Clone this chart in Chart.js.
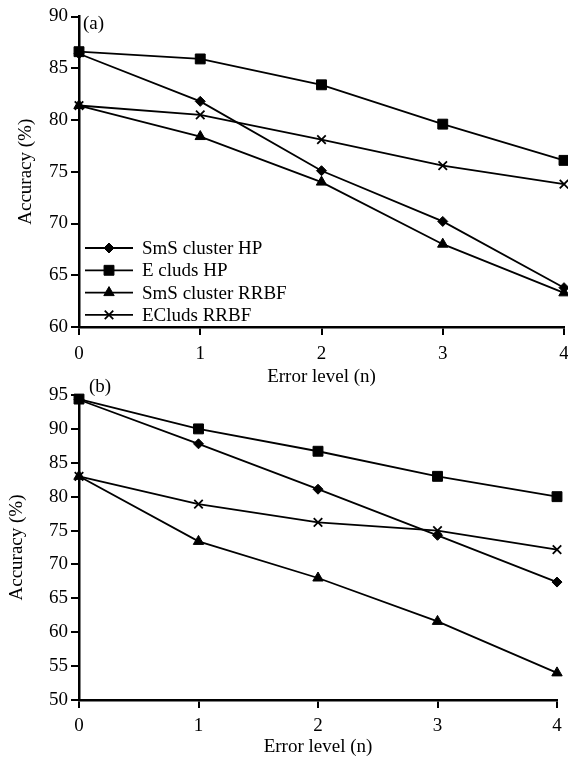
<!DOCTYPE html>
<html><head><meta charset="utf-8">
<script src="https://cdn.jsdelivr.net/npm/chart.js@4"></script>
<style>
html,body{margin:0;padding:0;background:#fff;}
#wrap{position:relative;width:568px;height:757px;overflow:hidden;background:#fff;}
canvas{position:absolute;left:0;}
#ca{top:0;}
#cb{top:372px;}
</style></head><body>
<div id="wrap"><canvas id="ca" width="568" height="388"></canvas><canvas id="cb" width="568" height="385"></canvas></div>
<script>
// ---- data ----
const categories = ['0', '1', '2', '3', '4'];
const seriesNames = ['SmS cluster HP', 'E cluds HP', 'SmS cluster RRBF', 'ECluds RRBF'];
const panelA_smsClusterHP   = [86.4, 81.8, 75.1, 70.2, 63.8];
const panelA_ecludsHP       = [86.6, 85.9, 83.4, 79.6, 76.1];
const panelA_smsClusterRRBF = [81.4, 78.4, 74.0, 68.0, 63.3];
const panelA_ecludsRRBF     = [81.4, 80.5, 78.1, 75.6, 73.8];
const panelB_smsClusterHP   = [94.3, 87.8, 81.1, 74.3, 67.4];
const panelB_ecludsHP       = [94.4, 90.0, 86.7, 83.0, 80.0];
const panelB_smsClusterRRBF = [83.0, 73.4, 68.0, 61.6, 54.0];
const panelB_ecludsRRBF     = [83.0, 78.9, 76.2, 75.0, 72.2];
const panelA_yTicks = [60, 65, 70, 75, 80, 85, 90];
const panelB_yTicks = [50, 55, 60, 65, 70, 75, 80, 85, 90, 95];
const panelLabels = ['(a)', '(b)'];
const xTitle = 'Error level (n)';
const yTitle = 'Accuracy (%)';

// ---- styles ----
const FONT = "'Liberation Serif', 'Times New Roman', serif";
const markerStyles = [
  {pointStyle: 'rectRot', pointRadius: 5, pointBorderWidth: 1},
  {pointStyle: 'rect', pointRadius: 7, pointBorderWidth: 1},
  {pointStyle: 'triangle', pointRadius: 6, pointBorderWidth: 1},
  {pointStyle: 'crossRot', pointRadius: 6, pointBorderWidth: 1.8}
];

function makeDatasets(arrs) {
  return arrs.map((d, i) => Object.assign({
    label: seriesNames[i],
    data: d,
    borderColor: '#000',
    backgroundColor: '#000',
    pointBackgroundColor: '#000',
    pointBorderColor: '#000',
    borderWidth: 1.8,
    tension: 0,
    clip: false
  }, markerStyles[i]));
}

function drawMarker(ctx, style, radius, x, y) {
  if (Chart.helpers && Chart.helpers.drawPoint) {
    Chart.helpers.drawPoint(ctx, {pointStyle: style, radius: radius, rotation: 0, borderWidth: ctx.lineWidth}, x, y);
    return;
  }
  ctx.beginPath();
  if (style === 'rect') { const s = radius * Math.SQRT1_2; ctx.rect(x - s, y - s, 2 * s, 2 * s); ctx.fill(); }
  else if (style === 'rectRot') { ctx.moveTo(x, y - radius); ctx.lineTo(x + radius, y); ctx.lineTo(x, y + radius); ctx.lineTo(x - radius, y); ctx.closePath(); ctx.fill(); }
  else if (style === 'triangle') { ctx.moveTo(x, y - radius); ctx.lineTo(x + radius * 0.866, y + radius / 2); ctx.lineTo(x - radius * 0.866, y + radius / 2); ctx.closePath(); ctx.fill(); }
  else { const s = radius * Math.SQRT1_2; ctx.moveTo(x - s, y - s); ctx.lineTo(x + s, y + s); ctx.moveTo(x + s, y - s); ctx.lineTo(x - s, y + s); ctx.stroke(); }
}

const annotPlugin = {
  id: 'annot',
  afterDatasetsDraw(chart, args, opts) {
    const ctx = chart.ctx, ca = chart.chartArea;
    ctx.save();
    ctx.fillStyle = '#000';
    ctx.font = '19px ' + FONT;
    ctx.textBaseline = 'middle';
    ctx.textAlign = 'left';
    ctx.fillText(opts.label, ca.left + opts.lx, ca.top + opts.ly);
    if (opts.legend) {
      chart.data.datasets.forEach((ds, i) => {
        const y = ca.bottom - 79 + i * 22.3;
        const x0 = ca.left + 6, x1 = ca.left + 54;
        ctx.strokeStyle = '#000';
        ctx.lineWidth = ds.borderWidth;
        ctx.beginPath(); ctx.moveTo(x0, y); ctx.lineTo(x1, y); ctx.stroke();
        ctx.fillStyle = '#000';
        ctx.lineWidth = ds.pointBorderWidth;
        drawMarker(ctx, ds.pointStyle, ds.pointRadius, (x0 + x1) / 2, y);
        ctx.fillStyle = '#000';
        ctx.textBaseline = 'middle';
        ctx.fillText(ds.label, ca.left + 63, y + 1);
      });
    }
    ctx.restore();
  }
};

function makeChart(id, arrs, yTicks, opt) {
  return new Chart(document.getElementById(id), {
    type: 'line',
    data: {labels: categories, datasets: makeDatasets(arrs)},
    options: {
      responsive: false,
      animation: false,
      devicePixelRatio: 1,
      layout: {autoPadding: false, padding: {top: opt.padTop, right: opt.padRight, left: 0, bottom: 0}},
      plugins: {
        legend: {display: false},
        tooltip: {enabled: false},
        annot: {label: opt.label, lx: opt.lx, ly: opt.ly, legend: opt.legend}
      },
      scales: {
        x: {
          offset: false,
          afterFit: s => { s.height = opt.xHeight; s.paddingLeft = 0; s.paddingRight = 0; },
          grid: {display: true, drawOnChartArea: false, drawTicks: true, tickLength: 8, color: '#000', lineWidth: 2},
          border: {display: true, color: '#000', width: 2.5},
          ticks: {color: '#000', padding: opt.xPad, font: {family: FONT, size: 19}, maxRotation: 0},
          title: {display: true, text: xTitle, color: '#000', font: {family: FONT, size: 19}, padding: {top: 0, bottom: opt.xTitlePad}}
        },
        y: {
          min: yTicks[0], max: yTicks[yTicks.length - 1],
          afterFit: s => { s.width = 79; },
          afterBuildTicks: s => { s.ticks = yTicks.map(v => ({value: v})); },
          grid: {display: true, drawOnChartArea: false, drawTicks: true, tickLength: 8, color: '#000', lineWidth: 2},
          border: {display: true, color: '#000', width: 2.5},
          ticks: {color: '#000', padding: 3, font: {family: FONT, size: 19}},
          title: {display: true, text: yTitle, color: '#000', font: {family: FONT, size: 19}, padding: {top: opt.yTitlePad, bottom: 0}}
        }
      }
    },
    plugins: [annotPlugin]
  });
}

makeChart('ca', [panelA_smsClusterHP, panelA_ecludsHP, panelA_smsClusterRRBF, panelA_ecludsRRBF], panelA_yTicks,
  {padTop: 16.5, padRight: 4, xHeight: 61, xPad: 7.6, xTitlePad: 0, yTitlePad: 15, label: panelLabels[0], lx: 4, ly: 7.5, legend: true});
makeChart('cb', [panelB_smsClusterHP, panelB_ecludsHP, panelB_smsClusterRRBF, panelB_ecludsRRBF], panelB_yTicks,
  {padTop: 23, padRight: 11, xHeight: 57, xPad: 7, xTitlePad: -1, yTitlePad: 6, label: panelLabels[1], lx: 10, ly: -8, legend: false});
</script>
</body></html>
